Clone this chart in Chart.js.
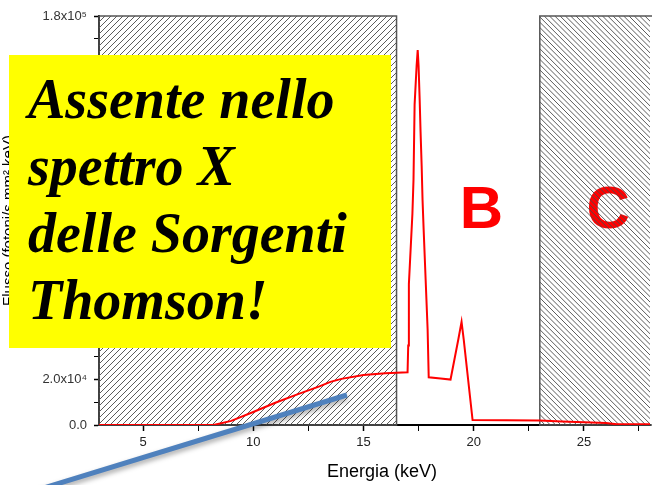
<!doctype html>
<html lang="it">
<head>
<meta charset="utf-8">
<title>Spettro X</title>
<style>
  html,body{margin:0;padding:0;background:#fff}
  #wrap{position:relative;width:652px;height:485px}
</style>
<script src="https://cdn.jsdelivr.net/npm/chart.js@4.4.1/dist/chart.umd.min.js"></script>
</head>
<body>
<div id="wrap"><canvas id="chart" width="652" height="485"></canvas></div>
<script>
// spectrum (keV, counts)
const energy = [3, 8.2, 9, 10, 11, 12, 13, 13.5, 14, 15, 16, 16.5, 17.0,
  17.03, 17.06, 17.22, 17.27, 17.32, 17.41, 17.46, 17.5, 17.55, 17.59, 17.64, 17.68, 17.73, 17.82, 17.91, 17.96,
  18.5, 18.95, 19.3, 19.45, 19.55, 19.95, 23, 24, 25, 26, 26.5, 28];
const intensity = [0, 0, 1800, 5700, 9800, 13500, 17000, 19000, 20300, 22000, 22800, 23000, 23200,
  35000, 62000, 93000, 108000, 141000, 158000, 165000, 158000, 143000, 129000, 114000, 99000, 86000, 64000, 42000, 21000,
  20500, 20000, 37500, 45400, 37500, 2200, 2000, 1500, 1200, 900, 300, 300];

const regionFrom = [3, 23];
const regionTo = [16.5, 28];
const regionNames = ['B', 'C'];

const xTickValues = [5, 7.5, 10, 12.5, 15, 17.5, 20, 22.5, 25, 27.5];
const xTickLabels = ['5', '', '10', '', '15', '', '20', '', '25', ''];
const yTickValues = [0, 10000, 20000, 30000, 40000, 50000, 60000, 70000, 80000, 90000, 100000,
  110000, 120000, 130000, 140000, 150000, 160000, 170000, 180000];
const yTickLabels = ['0.0', '', '2.0x10⁴', '', '4.0x10⁴', '', '6.0x10⁴', '', '8.0x10⁴', '', '1.0x10⁵',
  '', '1.2x10⁵', '', '1.4x10⁵', '', '1.6x10⁵', '', '1.8x10⁵'];

const noteLines = ['Assente nello', 'spettro X', 'delle Sorgenti', 'Thomson!'];
const arrowFrom = [0.4, -28000];
const arrowTo = [14.25, 13200];

function hatch(ctx, x0, x1, y0, y1, gap, dir){
  const h = y1 - y0;
  ctx.save();
  ctx.beginPath(); ctx.rect(x0, y0, x1 - x0, y1 - y0); ctx.clip();
  ctx.beginPath();
  for (let x = x0 - h; x < x1 + h; x += gap) {
    if (dir > 0) { ctx.moveTo(x, y1); ctx.lineTo(x + h, y0); }
    else { ctx.moveTo(x, y0); ctx.lineTo(x + h, y1); }
  }
  ctx.strokeStyle = '#4a4a4a'; ctx.lineWidth = 0.9;
  ctx.stroke();
  ctx.restore();
}

const regions = {
  id: 'regions',
  beforeDatasetsDraw(chart){
    const {ctx, scales:{x, y}} = chart;
    const top = y.getPixelForValue(180000), bot = y.getPixelForValue(0);
    // B / C labels
    ctx.save();
    ctx.fillStyle = '#ff0000';
    ctx.font = 'bold 60px "Liberation Sans", Arial, sans-serif';
    ctx.textAlign = 'center'; ctx.textBaseline = 'middle';
    ctx.fillText(regionNames[0], x.getPixelForValue(20.35), y.getPixelForValue(94000));
    ctx.fillText(regionNames[1], x.getPixelForValue(26.1), y.getPixelForValue(94000));
    ctx.restore();
    regionFrom.forEach((f, i) => {
      const x0 = x.getPixelForValue(f), x1 = x.getPixelForValue(regionTo[i]);
      hatch(ctx, x0, x1, top, bot, i === 0 ? 6 : 5.3, i === 0 ? 1 : -1);
      ctx.save();
      ctx.strokeStyle = '#555'; ctx.lineWidth = 1.5;
      ctx.strokeRect(x0, top, x1 - x0 + (i === 1 ? 4 : 0), bot - top);
      ctx.restore();
    });
  }
};

const overlay = {
  id: 'overlay',
  afterDraw(chart){
    const {ctx, scales:{x, y}} = chart;
    // blue pointer
    ctx.save();
    ctx.strokeStyle = '#4f81bd'; ctx.lineWidth = 5; ctx.lineCap = 'butt';
    ctx.shadowColor = 'rgba(0,0,0,0.35)'; ctx.shadowBlur = 5; ctx.shadowOffsetY = 3;
    ctx.beginPath();
    ctx.moveTo(x.getPixelForValue(arrowFrom[0]), y.getPixelForValue(arrowFrom[1]));
    ctx.lineTo(x.getPixelForValue(arrowTo[0]), y.getPixelForValue(arrowTo[1]));
    ctx.stroke();
    ctx.restore();
    // yellow note
    ctx.save();
    ctx.fillStyle = '#ffff00';
    ctx.fillRect(9, 55, 382, 293);
    ctx.fillStyle = '#000';
    ctx.font = 'italic bold 56px "Liberation Serif", "Times New Roman", serif';
    ctx.textBaseline = 'alphabetic';
    noteLines.forEach((t, i) => ctx.fillText(t, 28, 118 + i * 67));
    ctx.restore();
  }
};

const ctx = document.getElementById('chart').getContext('2d');
new Chart(ctx, {
  type: 'line',
  data: {
    datasets: [{
      data: energy.map((e, i) => ({x: e, y: intensity[i]})),
      borderColor: '#ff0000', borderWidth: 2, pointRadius: 0, tension: 0, fill: false
    }]
  },
  options: {
    responsive: false, animation: false, parsing: false,
    layout: { padding: { top: 16, right: 2, left: 0, bottom: 0 } },
    plugins: { legend: { display: false }, tooltip: { enabled: false } },
    scales: {
      x: {
        type: 'linear', min: 3, max: 28,
        afterBuildTicks: s => { s.ticks = xTickValues.map(v => ({value: v})); },
        afterFit: s => { s.height = 60; },
        ticks: {
          autoSkip: false, maxRotation: 0, padding: 4, color: '#222',
          font: { family: '"Liberation Sans", Arial, sans-serif', size: 13 },
          callback: v => xTickLabels[xTickValues.indexOf(v)] ?? ''
        },
        grid: { drawOnChartArea: false, tickLength: 6, tickColor: '#000',
          tickWidth: c => (c.index % 2 ? 1 : 1.5) },
        border: { color: '#000', width: 2 },
        title: { display: true, text: '   Energia (keV)', color: '#000',
          font: { family: '"Liberation Sans", Arial, sans-serif', size: 18 },
          padding: { top: 0, bottom: 2 } }
      },
      y: {
        min: 0, max: 180000,
        afterBuildTicks: s => { s.ticks = yTickValues.map(v => ({value: v})); },
        afterFit: s => { s.width = 99; },
        ticks: {
          autoSkip: false, padding: 7, color: '#333',
          font: { family: '"Liberation Sans", Arial, sans-serif', size: 13 },
          callback: v => yTickLabels[yTickValues.indexOf(v)] ?? ''
        },
        grid: { drawOnChartArea: false, tickLength: 5, tickColor: '#000',
          tickWidth: c => (c.index % 2 ? 1 : 1.5) },
        border: { color: '#000', width: 2 },
        title: { display: true, text: 'Flusso (fotoni/s mm² keV)', color: '#000',
          font: { family: '"Liberation Sans", Arial, sans-serif', size: 15 },
          padding: 0 }
      }
    }
  },
  plugins: [regions, overlay]
});
</script>
</body>
</html>
